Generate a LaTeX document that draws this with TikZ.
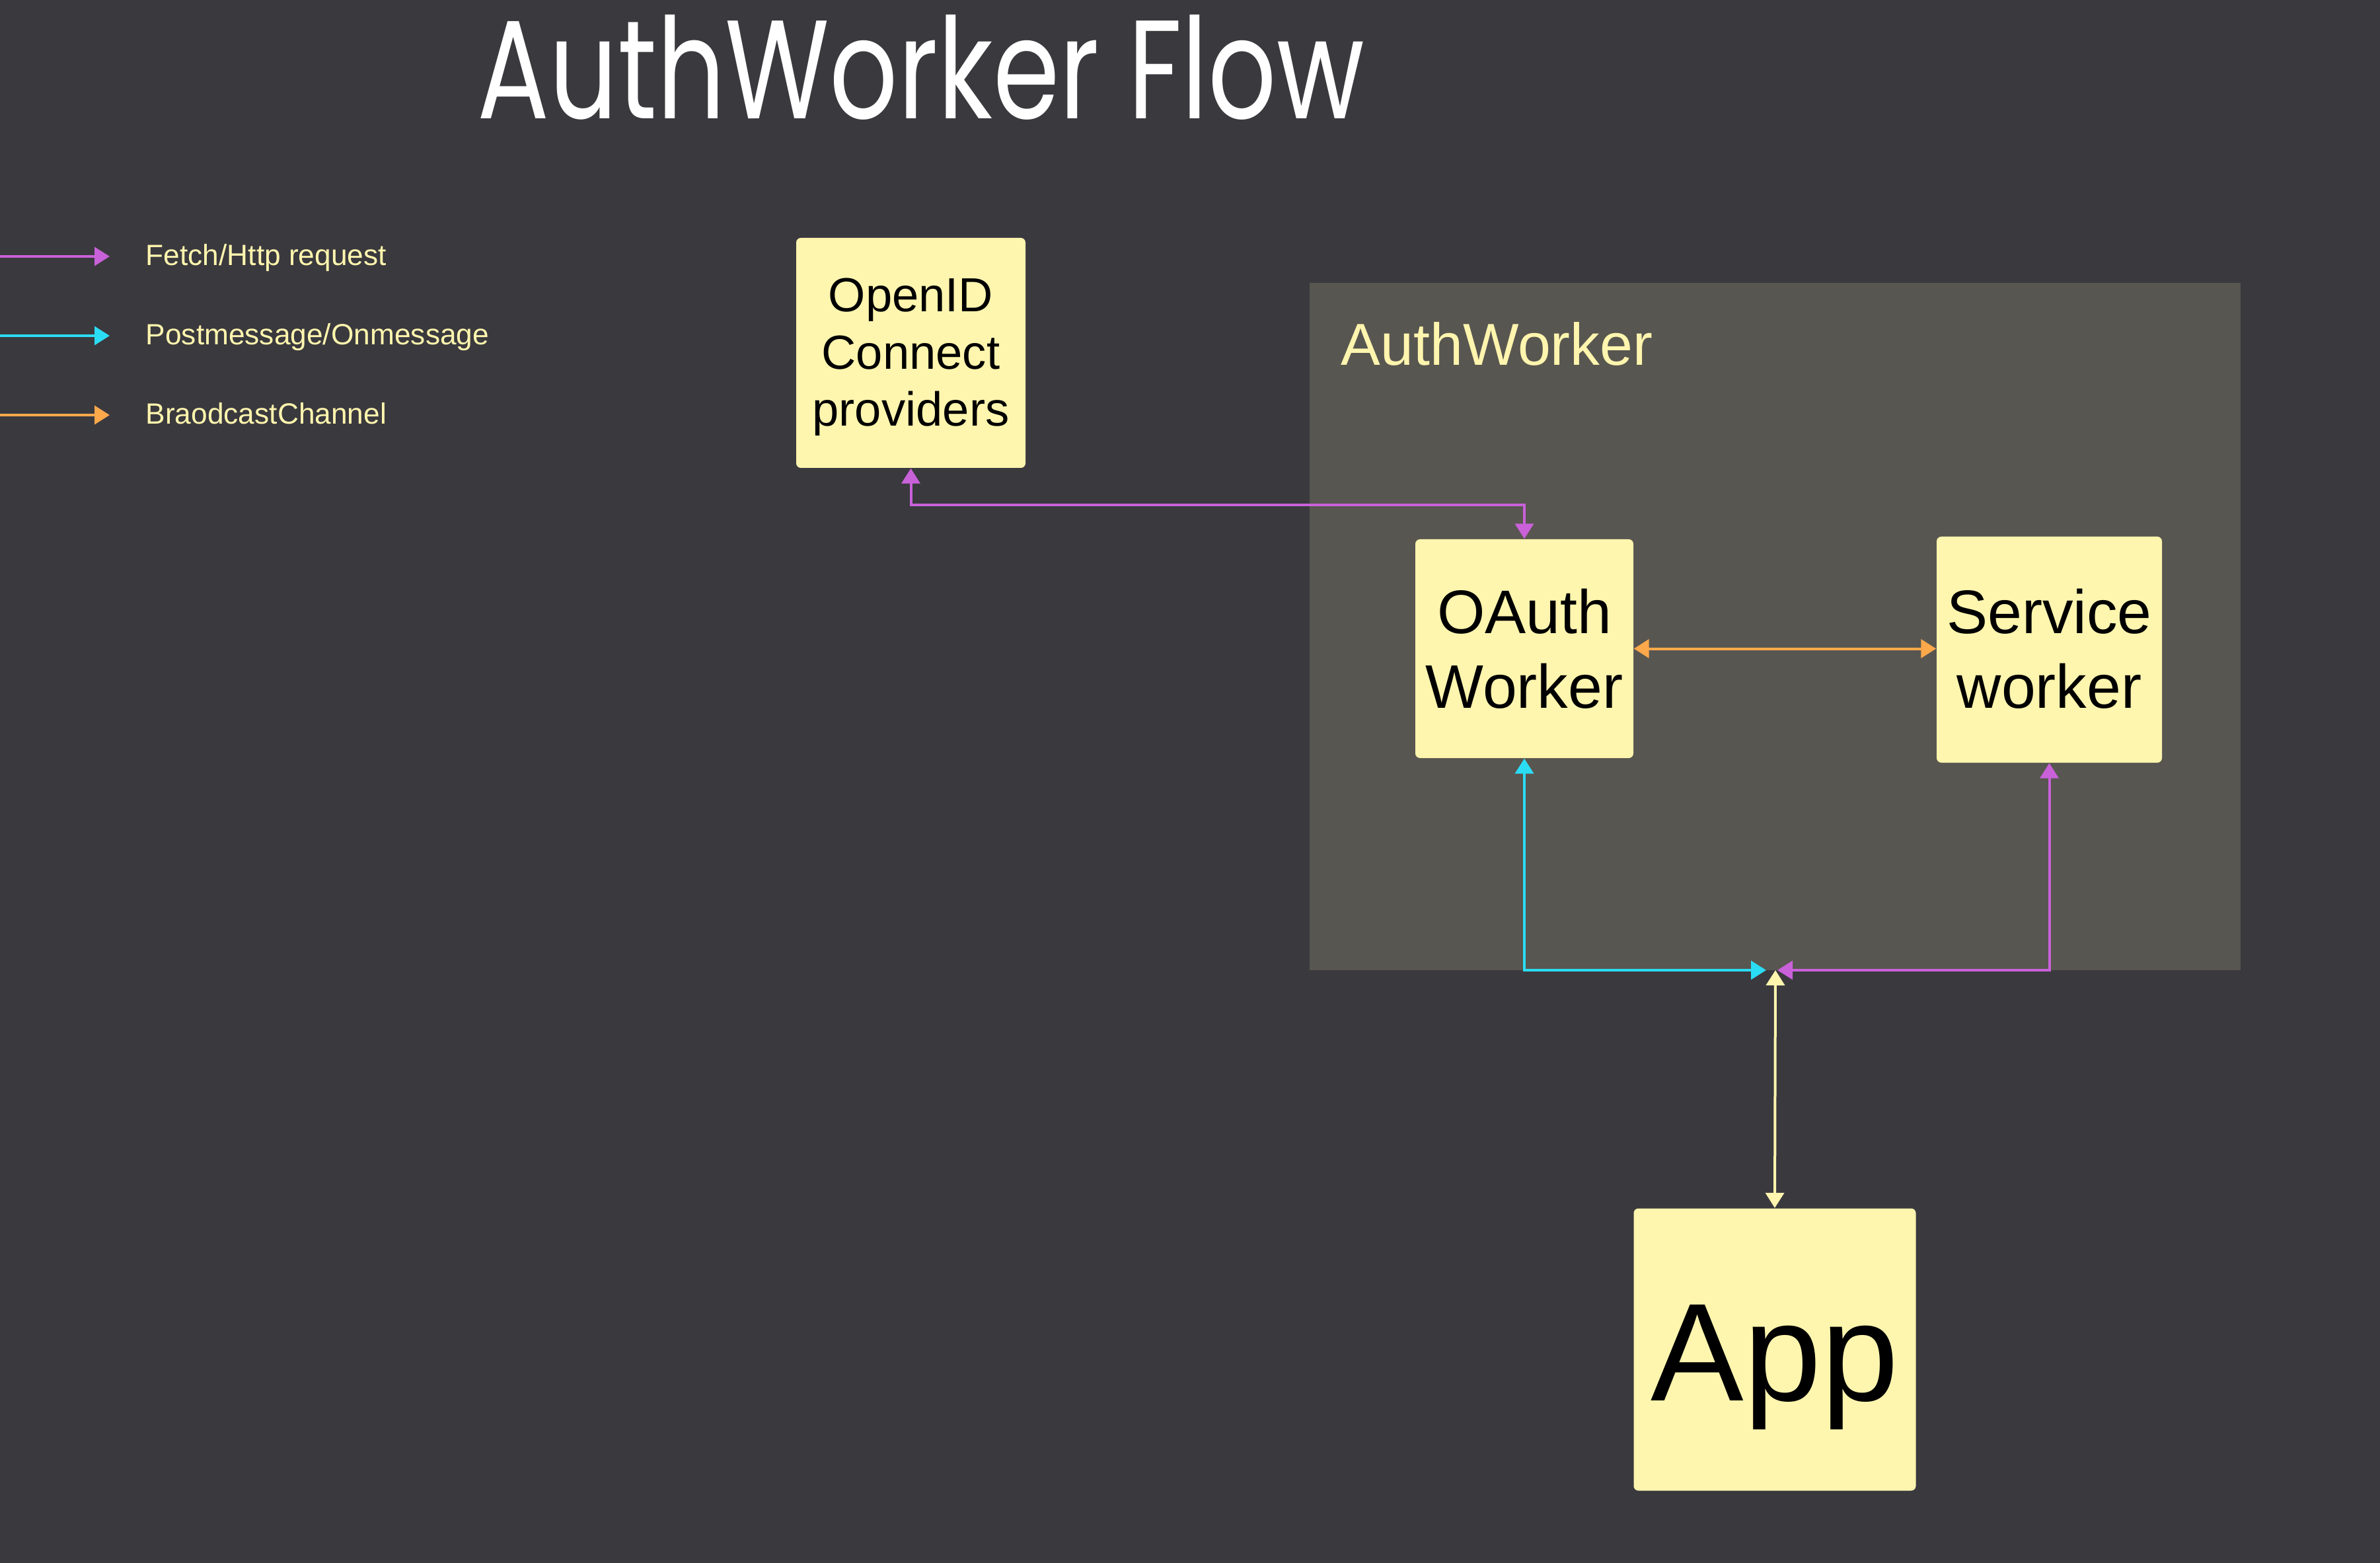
\documentclass[tikz,border=0pt]{standalone}
\usepackage{fontspec}
\setmainfont{Liberation Sans}
\newfontfamily\titlefont{Poppins}
\usetikzlibrary{arrows.meta}
\definecolor{bgc}{HTML}{3A393E}
\definecolor{contc}{HTML}{585650}
\definecolor{boxc}{HTML}{FEF5AE}
\definecolor{txtc}{HTML}{FFF5AE}
\definecolor{fetchc}{HTML}{C961D9}
\definecolor{postc}{HTML}{2BDCF5}
\definecolor{bcastc}{HTML}{FDA84B}
\tikzset{
  tip/.style={arrows={-Triangle[length=0.23cm,width=0.28cm]}},
  biarrow/.style={arrows={Triangle[length=0.23cm,width=0.28cm]-Triangle[length=0.23cm,width=0.28cm]}},
  conn/.style={line width=0.04cm},
  fetchln/.style={conn,draw=fetchc},
  postln/.style={conn,draw=postc},
  bcastln/.style={conn,draw=bcastc},
  appln/.style={conn,draw=boxc},
  card/.style={fill=boxc,rounded corners=0.07cm,inner sep=0pt,align=center,text=black,text depth=0pt},
  legtxt/.style={anchor=base west,text=txtc,font=\fontsize{12.6pt}{15pt}\selectfont,inner sep=0pt},
}
\begin{document}
\begin{tikzpicture}
\fill[bgc] (0,0) rectangle (36.02,-23.65);
\useasboundingbox (0,0) rectangle (36.02,-23.65);

% title
\node[anchor=base west,inner sep=0pt,text=white] (title) at (7.22,-1.80)
  {\resizebox{13.42cm}{1.57cm}{\titlefont AuthWorker Flow}};

% legend
\coordinate (l1s) at (0,-3.88); \coordinate (l1e) at (1.66,-3.88);
\coordinate (l2s) at (0,-5.08); \coordinate (l2e) at (1.66,-5.08);
\coordinate (l3s) at (0,-6.28); \coordinate (l3e) at (1.66,-6.28);
\draw[fetchln,tip] (l1s) -- (l1e);
\draw[postln,tip] (l2s) -- (l2e);
\draw[bcastln,tip] (l3s) -- (l3e);
\node[legtxt] (lt1) at (2.20,-4.02) {Fetch/Http request};
\node[legtxt] (lt2) at (2.20,-5.22) {Postmessage/Onmessage};
\node[legtxt] (lt3) at (2.20,-6.42) {BraodcastChannel};

% container
\node[fill=contc,inner sep=0pt,minimum width=14.09cm,minimum height=10.40cm] (cont) at (26.865,-9.48) {};
\node[anchor=base west,inner sep=0pt,text=txtc,font=\fontsize{25.5pt}{30pt}\selectfont] (contlbl) at (20.29,-5.53) {AuthWorker};

% boxes
\node[card,minimum width=3.47cm,minimum height=3.48cm,text height=2.22cm,font=\fontsize{20.6pt}{24.75pt}\selectfont] (openid) at (13.785,-5.34)
  {OpenID\\Connect\\providers};
\node[card,minimum width=3.30cm,minimum height=3.31cm,text height=1.79cm,font=\fontsize{26.5pt}{31.9pt}\selectfont] (oauth) at (23.07,-9.815)
  {OAuth\\Worker};
\node[card,minimum width=3.41cm,minimum height=3.42cm,text height=1.76cm,font=\fontsize{26.5pt}{31.9pt}\selectfont] (service) at (31.015,-9.83)
  {Service\\worker};
\node[card,minimum width=4.27cm,minimum height=4.27cm,text height=1.54cm,font=\fontsize{60pt}{70pt}\selectfont] (app) at (26.86,-20.42)
  {App};

% junction
\coordinate (j) at (26.87,-14.68);

% connectors
\draw[fetchln,biarrow] (openid.south) -- ++(0,-0.55) -| (oauth.north);
\draw[bcastln,biarrow] (oauth.east) -- (oauth.east -| service.west);
\draw[postln,biarrow] (oauth.south) |- ([xshift=-0.14cm]j);
\draw[fetchln,biarrow] (service.south) |- ([xshift=0.03cm]j);
\draw[appln,biarrow] (j) -- (app.north);
\end{tikzpicture}
\end{document}
